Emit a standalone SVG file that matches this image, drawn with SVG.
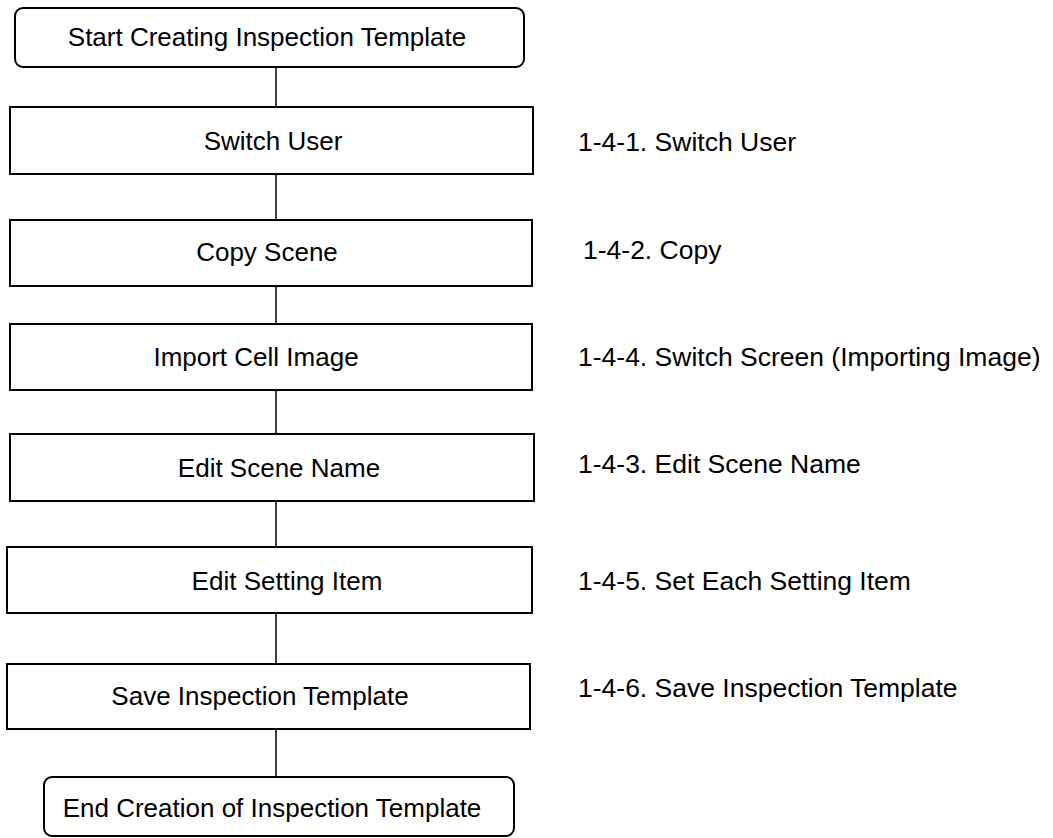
<svg xmlns="http://www.w3.org/2000/svg" width="1053" height="838" viewBox="0 0 1053 838">
<style>
.box{fill:#fff;stroke:#000;stroke-width:2}
.t{font-family:"Liberation Sans",Arial,sans-serif;font-size:26px;fill:#000}
.c{text-anchor:middle}
.l{font-size:26.5px}
.conn line{stroke:#000;stroke-width:1.5}
</style>
<rect width="1053" height="838" fill="#fff"/>
<g class="conn" id="connectors">
<line x1="276" y1="67" x2="276" y2="107"/>
<line x1="276" y1="174" x2="276" y2="220"/>
<line x1="276" y1="286" x2="276" y2="324"/>
<line x1="276" y1="390" x2="276" y2="434"/>
<line x1="276" y1="501" x2="276" y2="547"/>
<line x1="276" y1="613" x2="276" y2="664"/>
<line x1="276" y1="729" x2="276" y2="777"/>
</g>
<g id="start"><rect class="box" x="15" y="8" width="509" height="59" rx="8"/><text class="t c" x="267" y="46">Start Creating Inspection Template</text></g>
<g id="switch-user"><rect class="box" x="10" y="107" width="523" height="67"/><text class="t c" x="273" y="150">Switch User</text></g>
<g id="copy-scene"><rect class="box" x="10" y="220" width="522" height="66"/><text class="t c" x="267" y="261">Copy Scene</text></g>
<g id="import-cell-image"><rect class="box" x="10" y="324" width="522" height="66"/><text class="t c" x="256" y="366">Import Cell Image</text></g>
<g id="edit-scene-name"><rect class="box" x="10" y="434" width="524" height="67"/><text class="t c" x="279" y="477">Edit Scene Name</text></g>
<g id="edit-setting-item"><rect class="box" x="7" y="547" width="525" height="66"/><text class="t c" x="287" y="590">Edit Setting Item</text></g>
<g id="save-template"><rect class="box" x="7" y="664" width="523" height="65"/><text class="t c" x="260" y="705">Save Inspection Template</text></g>
<g id="end"><rect class="box" x="44" y="777" width="470" height="59" rx="8"/><text class="t c" x="272" y="817">End Creation of Inspection Template</text></g>
<g id="labels">
<text class="t l" x="578" y="151">1-4-1. Switch User</text>
<text class="t l" x="583" y="259">1-4-2. Copy</text>
<text class="t l" x="578" y="366">1-4-4. Switch Screen (Importing Image)</text>
<text class="t l" x="578" y="473">1-4-3. Edit Scene Name</text>
<text class="t l" x="578" y="590">1-4-5. Set Each Setting Item</text>
<text class="t l" x="578" y="697">1-4-6. Save Inspection Template</text>
</g>
</svg>
